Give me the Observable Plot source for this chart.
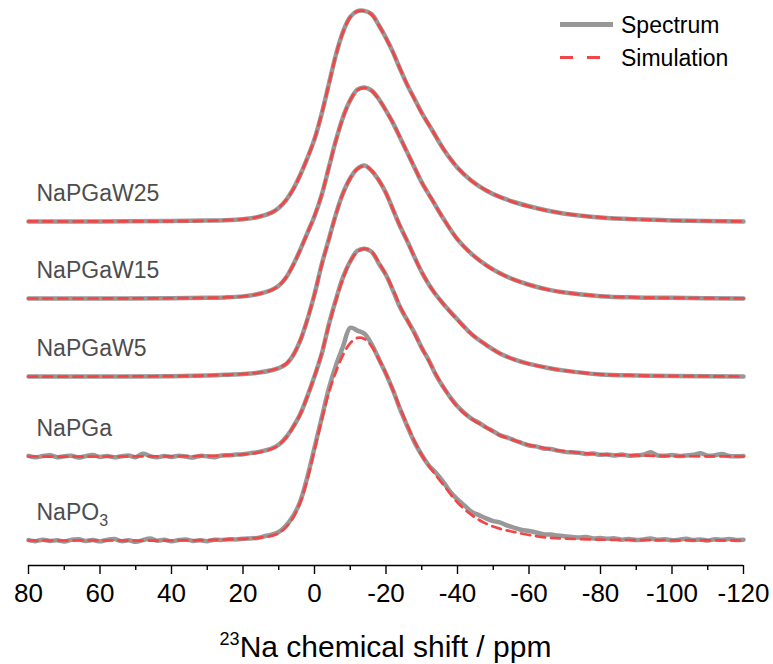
<!DOCTYPE html>
<html>
<head>
<meta charset="utf-8">
<script src="https://cdn.jsdelivr.net/npm/d3@7"></script>
<script src="https://cdn.jsdelivr.net/npm/@observablehq/plot@0.6"></script>
<style>
  html, body { margin: 0; padding: 0; background: #fff; }
  #chart { width: 773px; height: 664px; }
</style>
</head>
<body>
<div id="chart"></div>
<script>
// Stacked 23Na MAS NMR spectra (grey) with their fitted simulations (red dashes).
const samples = ["NaPGaW25", "NaPGaW15", "NaPGaW5", "NaPGa", "NaPO3"];
// vertical stacking offset of each trace, in normalised-intensity units
const offsets = [1.512, 1.147, 0.777, 0.398, 0];

// chemical-shift sampling of the smooth traces (ppm)
const ppmFit = [80, 60, 40, 30, 25, 20, 16, 12, 10, 8, 6, 4, 2, 0, -2, -4, -6, -8, -10, -12,
  -14, -16, -18, -20, -22, -24, -26, -28, -30, -33, -36, -40, -44, -48, -52, -56, -60, -65, -70, -80,
  -90, -100, -120];
// chemical-shift sampling of the noisy measured traces (ppm, 2 ppm steps)
const ppmRaw = d3.range(80, -121, -2);

// measured spectra, normalised to the maximum
const specW25 = [0, 0, 0.002, 0.004, 0.006, 0.011, 0.02, 0.042, 0.064, 0.1, 0.152, 0.22, 0.30, 0.39, 0.51,
  0.65, 0.79, 0.9, 0.97, 0.997, 0.998, 0.982, 0.93, 0.87, 0.80, 0.72, 0.645, 0.58, 0.515, 0.43,
  0.345, 0.255, 0.192, 0.147, 0.115, 0.091, 0.072, 0.052, 0.037, 0.019, 0.01, 0.005, 0];
const specW15 = [0, 0, 0.001, 0.003, 0.005, 0.01, 0.02, 0.04, 0.06, 0.098, 0.158, 0.23, 0.31, 0.39, 0.49,
  0.62, 0.75, 0.86, 0.94, 0.99, 1.0, 0.985, 0.945, 0.89, 0.83, 0.76, 0.69, 0.62, 0.55, 0.465,
  0.38, 0.28, 0.21, 0.158, 0.118, 0.088, 0.065, 0.043, 0.028, 0.011, 0.005, 0.003, 0];
const specW5 = [0, 0, 0.002, 0.005, 0.008, 0.012, 0.018, 0.03, 0.04, 0.058, 0.1, 0.17, 0.27, 0.39, 0.53,
  0.65, 0.77, 0.87, 0.94, 0.985, 1.0, 0.975, 0.93, 0.87, 0.79, 0.71, 0.64, 0.565, 0.495, 0.41,
  0.345, 0.27, 0.2, 0.15, 0.108, 0.08, 0.06, 0.042, 0.028, 0.01, 0.005, 0.003, 0];
const specNaPGa = [0.003, -0.004, 0.002, 0.006, -0.003, 0.001, 0.004, -0.005, 0.002, 0.007,
  -0.002, 0.003, -0.004, 0.001, 0.005, -0.003, 0.013, 0.002, -0.004, 0.003,
  -0.002, 0.004, 0.0, -0.005, 0.003, 0.001, -0.003, 0.005, 0.006, 0.009,
  0.011, 0.016, 0.02, 0.028, 0.038, 0.056, 0.09, 0.14, 0.2, 0.285,
  0.38, 0.485, 0.625, 0.745, 0.85, 0.925, 0.975, 0.985, 0.97, 0.915,
  0.86, 0.785, 0.705, 0.645, 0.585, 0.515, 0.455, 0.385, 0.33, 0.28,
  0.238, 0.205, 0.178, 0.16, 0.138, 0.12, 0.1, 0.09, 0.076, 0.064,
  0.052, 0.048, 0.038, 0.036, 0.028, 0.022, 0.02, 0.018, 0.012, 0.014,
  0.008, 0.01, 0.005, 0.009, 0.004, 0.006, 0.008, 0.02, 0.005, 0.004,
  0.007, 0.002, 0.005, 0.008, 0.015, 0.004, 0.006, 0.012, 0.002, 0.001, 0.003];
const specNaPO3 = [0.002, -0.003, 0.004, -0.002, 0.001, -0.005, 0.003, 0.006, -0.002, 0.002,
  -0.004, 0.003, 0.007, -0.003, 0.001, -0.006, 0.002, 0.009, -0.001, 0.003,
  -0.004, 0.002, 0.005, -0.002, 0.001, -0.003, 0.004, 0.002, 0.006, 0.005,
  0.008, 0.01, 0.012, 0.02, 0.028, 0.04, 0.07, 0.115, 0.185, 0.3,
  0.44, 0.58, 0.72, 0.83, 0.92, 1.008, 0.995, 0.98, 0.93, 0.86,
  0.79, 0.71, 0.62, 0.54, 0.465, 0.405, 0.355, 0.32, 0.278, 0.23,
  0.195, 0.165, 0.135, 0.12, 0.105, 0.092, 0.085, 0.07, 0.06, 0.05,
  0.045, 0.038, 0.03, 0.028, 0.024, 0.02, 0.017, 0.014, 0.016, 0.01,
  0.012, 0.008, 0.01, 0.004, 0.007, 0.002, 0.005, 0.009, 0.003, 0.006,
  0.001, 0.004, 0.008, 0.002, 0.005, 0.0, 0.006, 0.003, 0.007, 0.002, 0.004];

// simulated line shapes on the ppmFit grid
const simW25 = [0, 0, 0.001, 0.003, 0.006, 0.011, 0.021, 0.042, 0.065, 0.1, 0.151, 0.22, 0.30, 0.39, 0.51,
  0.648, 0.788, 0.898, 0.968, 0.996, 0.998, 0.98, 0.93, 0.868, 0.80, 0.722, 0.646, 0.578, 0.514, 0.43,
  0.346, 0.256, 0.192, 0.148, 0.115, 0.09, 0.071, 0.052, 0.037, 0.019, 0.01, 0.005, 0];
const simW15 = [0, 0, 0.001, 0.003, 0.005, 0.01, 0.02, 0.04, 0.061, 0.099, 0.157, 0.23, 0.31, 0.392, 0.492,
  0.62, 0.748, 0.858, 0.94, 0.988, 0.998, 0.984, 0.944, 0.89, 0.83, 0.762, 0.69, 0.62, 0.55, 0.465,
  0.38, 0.28, 0.21, 0.157, 0.118, 0.088, 0.065, 0.043, 0.028, 0.011, 0.005, 0.003, 0];
const simW5 = [0, 0, 0.002, 0.005, 0.008, 0.012, 0.018, 0.03, 0.041, 0.06, 0.1, 0.17, 0.27, 0.39, 0.528,
  0.648, 0.768, 0.868, 0.94, 0.984, 0.998, 0.976, 0.93, 0.868, 0.79, 0.712, 0.64, 0.565, 0.495, 0.41,
  0.345, 0.268, 0.2, 0.15, 0.108, 0.08, 0.06, 0.042, 0.028, 0.01, 0.005, 0.003, 0];
const simNaPGa = [0, 0, 0.001, 0.003, 0.005, 0.01, 0.018, 0.036, 0.055, 0.088, 0.138, 0.2, 0.285, 0.38, 0.49,
  0.62, 0.74, 0.845, 0.925, 0.97, 0.985, 0.97, 0.92, 0.86, 0.79, 0.71, 0.645, 0.58, 0.515, 0.42,
  0.33, 0.235, 0.178, 0.138, 0.1, 0.076, 0.055, 0.038, 0.025, 0.01, 0.005, 0.002, 0];
const simNaPO3 = [0, 0, 0, 0.002, 0.004, 0.008, 0.012, 0.022, 0.035, 0.062, 0.108, 0.18, 0.29, 0.43, 0.57,
  0.70, 0.80, 0.88, 0.935, 0.96, 0.955, 0.92, 0.86, 0.79, 0.71, 0.625, 0.545, 0.47, 0.405, 0.33,
  0.265, 0.18, 0.12, 0.08, 0.055, 0.04, 0.026, 0.014, 0.009, 0.004, 0.002, 0.001, 0];

const xTicks = [80, 60, 40, 20, 0, -20, -40, -60, -80, -100, -120];
const xMinorTicks = [70, 50, 30, 10, -10, -30, -50, -70, -90, -110];

const spectra = [
  [ppmFit, specW25], [ppmFit, specW15], [ppmFit, specW5], [ppmRaw, specNaPGa], [ppmRaw, specNaPO3]
];
const simulations = [simW25, simW15, simW5, simNaPGa, simNaPO3];

// long tables for Plot, each trace lifted by its offset
const specRows = spectra.flatMap(([ppm, vals], i) =>
  vals.map((v, j) => ({sample: samples[i], ppm: ppm[j], y: v + offsets[i]})));
const simRows = simulations.flatMap((vals, i) =>
  vals.map((v, j) => ({sample: samples[i], ppm: ppmFit[j], y: v + offsets[i]})));

const FONT = "'Liberation Sans', Arial, Helvetica, sans-serif";
const GRAY = "#989898";
const RED = "#f24545";
const yDomain = [-0.1185, 2.5592];

const plot = Plot.plot({
  width: 773,
  height: 664,
  marginLeft: 28,
  marginRight: 30,
  marginTop: 0,
  marginBottom: 99,
  style: {fontFamily: FONT, background: "#fff", overflow: "visible"},
  x: {domain: [80, -120]},
  y: {domain: yDomain, axis: null},
  marks: [
    Plot.ruleY([yDomain[0]], {stroke: "#000", strokeWidth: 1.6}),
    Plot.axisX(xMinorTicks, {tickSize: 5, strokeWidth: 1.4, tickFormat: () => "", label: null}),
    Plot.axisX(xTicks, {tickSize: 9, tickPadding: 9, strokeWidth: 1.4, fontSize: 26,
      tickFormat: d => String(d), label: null}),
    Plot.line(specRows, {x: "ppm", y: "y", z: "sample", stroke: GRAY, strokeWidth: 4.5,
      curve: "catmull-rom", strokeLinejoin: "round"}),
    Plot.line(simRows, {x: "ppm", y: "y", z: "sample", stroke: RED, strokeWidth: 2.7,
      strokeDasharray: "9,6", curve: "catmull-rom"}),
    Plot.text(samples, {frameAnchor: "left", dx: 8, y: (d, i) => offsets[i], dy: -28,
      text: d => d, textAnchor: "start", fontSize: 23, fill: "#4d4d4d"})
  ]
});

const svg = d3.select(plot);

// chemical formula subscript
svg.selectAll("text").filter(function () { return this.textContent === "NaPO3"; })
  .each(function () {
    const t = d3.select(this);
    t.text("NaPO");
    t.append("tspan").attr("dy", 6).attr("font-size", 16).text("3");
  });

// axis title with isotope superscript
const xr = plot.scale("x").range;
const title = svg.append("text")
  .attr("x", (xr[0] + xr[1]) / 2)
  .attr("y", 657)
  .attr("text-anchor", "middle")
  .attr("font-size", 30)
  .attr("fill", "#000");
title.append("tspan").attr("font-size", 18).attr("dy", -12).text("23");
title.append("tspan").attr("dy", 12).text("Na chemical shift / ppm");

// legend
const legend = svg.append("g").attr("font-size", 23).attr("fill", "#000")
  .attr("text-anchor", "start");
legend.append("line").attr("x1", 560).attr("x2", 613).attr("y1", 24.5).attr("y2", 24.5)
  .attr("stroke", GRAY).attr("stroke-width", 5);
legend.append("text").attr("x", 621).attr("y", 32.5).attr("text-anchor", "start").text("Spectrum");
legend.append("line").attr("x1", 560).attr("x2", 601).attr("y1", 57.5).attr("y2", 57.5)
  .attr("stroke", RED).attr("stroke-width", 3).attr("stroke-dasharray", "13,14");
legend.append("text").attr("x", 621).attr("y", 65.5).attr("text-anchor", "start").text("Simulation");

document.getElementById("chart").appendChild(plot);
</script>
</body>
</html>
